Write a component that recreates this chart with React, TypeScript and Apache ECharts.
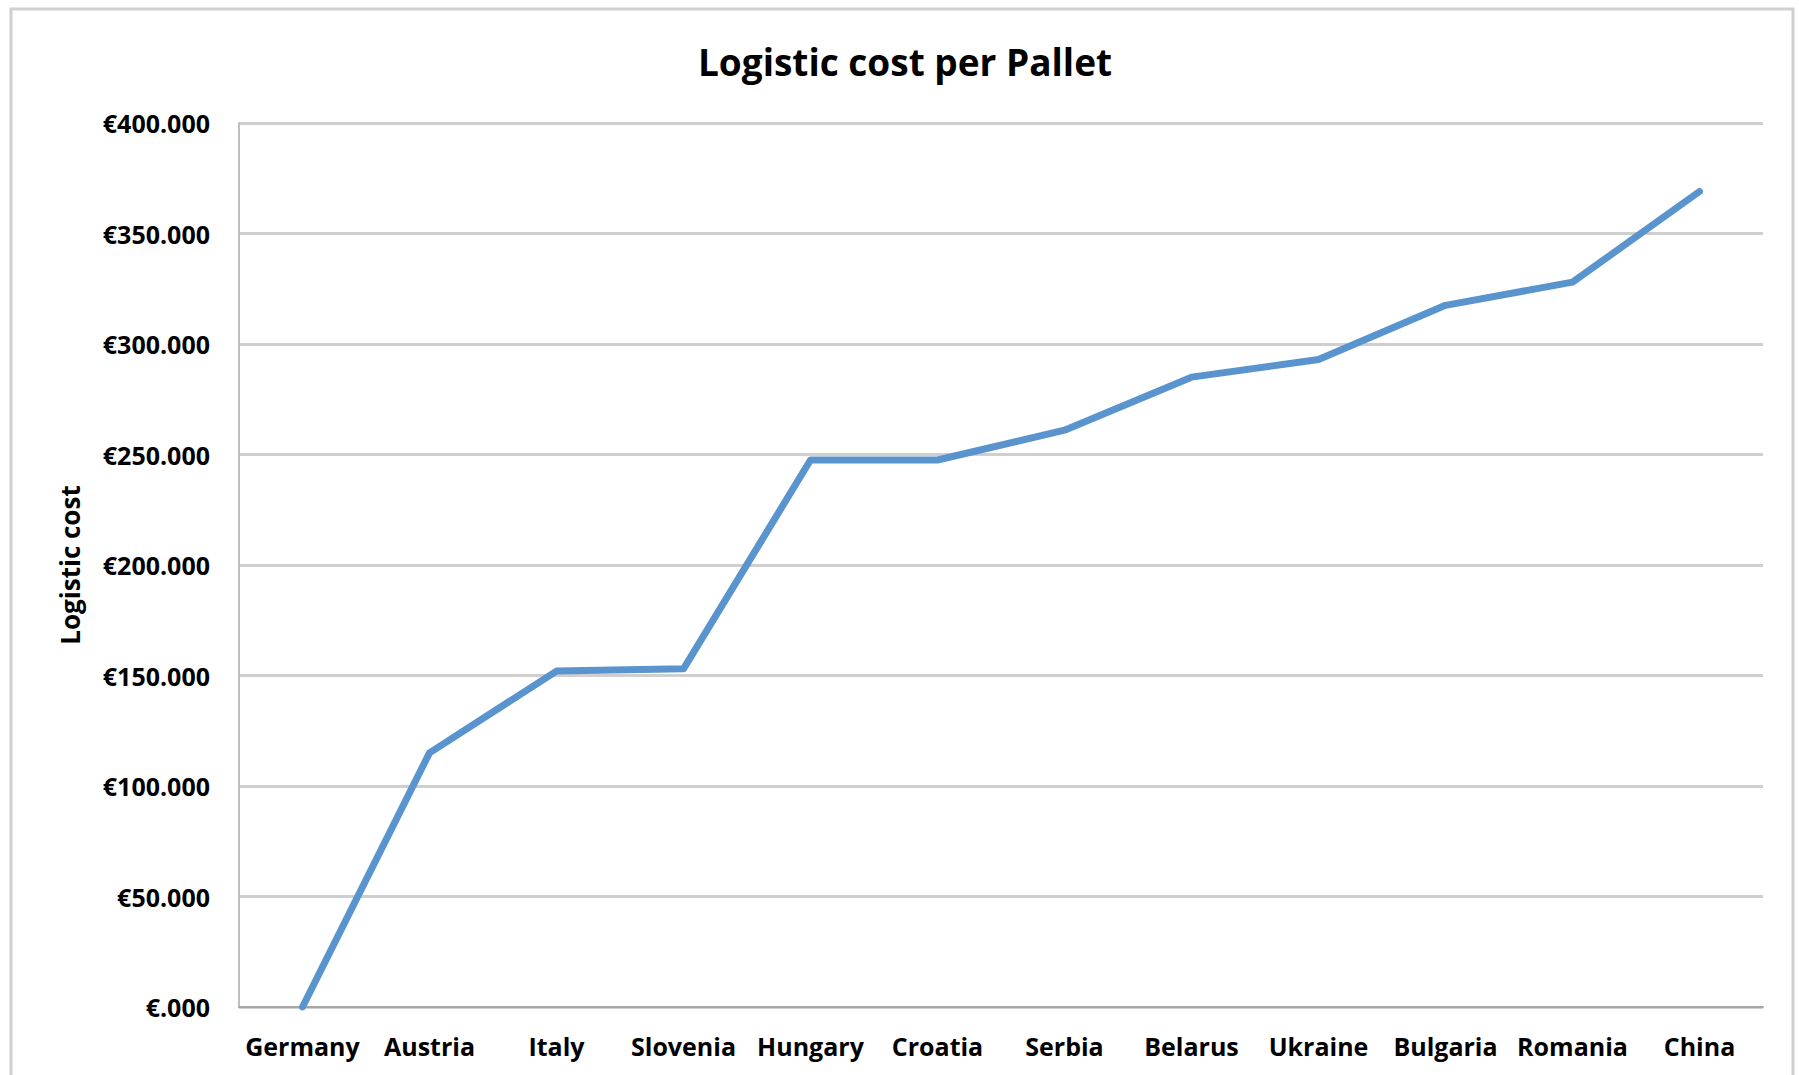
import React, { useEffect, useRef } from "react";
import * as echarts from "echarts";

const countries = [
  "Germany", "Austria", "Italy", "Slovenia", "Hungary", "Croatia",
  "Serbia", "Belarus", "Ukraine", "Bulgaria", "Romania", "China",
];
const logisticCost = [0, 115, 152, 153, 247.5, 247.5, 261, 285, 293, 317.5, 328, 369];
const yTickValues = [0, 50, 100, 150, 200, 250, 300, 350, 400];
const yTickLabels = [
  "€.000", "€50.000", "€100.000", "€150.000", "€200.000",
  "€250.000", "€300.000", "€350.000", "€400.000",
];
const chartTitle = "Logistic cost per Pallet";
const yAxisTitle = "Logistic cost";

const FONT = "'Open Sans', 'Noto Sans', sans-serif";

export default function App() {
  const ref = useRef<HTMLDivElement>(null);
  useEffect(() => {
    if (!ref.current) return;
    const chart = echarts.init(ref.current, null, { renderer: "svg" });
    chart.setOption({
      animation: false,
      backgroundColor: "#ffffff",
      textStyle: { fontFamily: FONT },
      title: {
        text: chartTitle,
        left: 900,
        textAlign: "center",
        top: 38,
        textStyle: { fontFamily: FONT, fontSize: 37, fontWeight: "bold", color: "#000000" },
      },
      graphic: [
        {
          type: "rect",
          shape: { x: 11, y: 9, width: 1782, height: 1100 },
          style: { fill: "none", stroke: "#d0d0d0", lineWidth: 3 },
          silent: true,
        },
      ],
      grid: { left: 239, right: 36, top: 123, bottom: 68, containLabel: false },
      xAxis: {
        type: "category",
        data: countries,
        boundaryGap: true,
        axisLine: { show: true, lineStyle: { color: "#a6a6a6", width: 2 } },
        axisTick: { show: false },
        axisLabel: {
          interval: 0,
          margin: 26,
          fontFamily: FONT,
          fontSize: 25,
          fontWeight: "bold",
          color: "#000000",
        },
        splitLine: { show: false },
      },
      yAxis: {
        type: "value",
        min: yTickValues[0],
        max: yTickValues[yTickValues.length - 1],
        interval: yTickValues[1] - yTickValues[0],
        name: yAxisTitle,
        nameLocation: "middle",
        nameGap: 156,
        nameTextStyle: { fontFamily: FONT, fontSize: 26, fontWeight: "bold", color: "#000000" },
        axisLine: { show: true, lineStyle: { color: "#bfbfbf", width: 2 } },
        axisTick: { show: false },
        axisLabel: {
          margin: 29,
          fontFamily: FONT,
          fontSize: 25,
          fontWeight: "bold",
          color: "#000000",
          formatter: (v: number) => {
            const i = yTickValues.indexOf(v);
            return i >= 0 ? yTickLabels[i] : "";
          },
        },
        splitLine: { show: true, lineStyle: { color: "#cfcfcf", width: 3 } },
      },
      series: [
        {
          type: "line",
          data: logisticCost,
          showSymbol: false,
          symbol: "none",
          lineStyle: { color: "#5A94CE", width: 7, cap: "round", join: "round" },
        },
      ],
    });
    return () => chart.dispose();
  }, []);
  return (
    <div
      ref={ref}
      style={{ position: "absolute", left: 0, top: 0, width: 1799, height: 1075, background: "#fff" }}
    />
  );
}
